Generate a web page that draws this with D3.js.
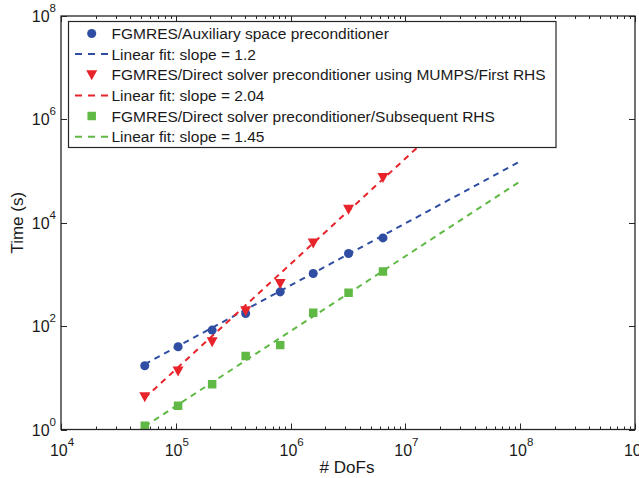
<!DOCTYPE html>
<html><head><meta charset="utf-8">
<script src="https://cdn.jsdelivr.net/npm/d3@7"></script>
<style>
body{margin:0;background:#fff;}
text{font-family:"Liberation Sans",Arial,sans-serif;fill:#1a1a1a;}
</style></head>
<body>
<svg id="chart" width="639" height="478"></svg>
<script>
// ---- data ----
const dofs = [53670, 104700, 207300, 406000, 811800, 1574000, 3198000, 6377000];
const auxTimes = [17.1, 39.8, 83.8, 176, 460, 1043, 2540, 5085];
const mumpsFirstTimes = [4.3, 13.5, 49.7, 198, 668, 4070, 18240, 74700];
const mumpsSubsTimes = [1.18, 2.88, 7.47, 26.3, 42.9, 181, 444, 1140];
// fitted lines (endpoints)
const fitX = [53670, 1e8];
const auxFit = [18.4, 154000];
const mumpsFirstFit = [4.08, 1.92e7];
const mumpsSubsFit = [1.15, 63400];
const xTickExps = [4, 5, 6, 7, 8, 9];
const yTickExps = [0, 2, 4, 6, 8];
const legendLabels = [
  "FGMRES/Auxiliary space preconditioner",
  "Linear fit: slope = 1.2",
  "FGMRES/Direct solver preconditioner using MUMPS/First RHS",
  "Linear fit: slope = 2.04",
  "FGMRES/Direct solver preconditioner/Subsequent RHS",
  "Linear fit: slope = 1.45"
];

const colBlue = "#2f4ea3", colRed = "#e8232a", colGreen = "#5fb944";
const axisCol = "#262626";

const svg = d3.select("#chart");
const L = 61, R = 635, T = 16, B = 429.5;
const x = d3.scaleLog().domain([1e4, 1e9]).range([L, R]);
const y = d3.scaleLog().domain([1, 1e8]).range([B, T]);

svg.append("defs").append("clipPath").attr("id", "clip")
  .append("rect").attr("x", L).attr("y", T).attr("width", R - L).attr("height", B - T);

// ticks
const g = svg.append("g");
const minorX = [];
for (let e = 4; e < 9; e++) for (let k = 2; k <= 9; k++) minorX.push(k * Math.pow(10, e));
const tickStroke = (sel) => sel.attr("stroke", axisCol).attr("stroke-width", 1);
xTickExps.forEach(e => {
  const px = Math.round(x(Math.pow(10, e))) + 0.5;
  g.append("line").attr("x1", px).attr("x2", px).attr("y1", B).attr("y2", B - 6).call(tickStroke);
  g.append("line").attr("x1", px).attr("x2", px).attr("y1", T).attr("y2", T + 6).call(tickStroke);
});
minorX.forEach(v => {
  const px = Math.round(x(v)) + 0.5;
  g.append("line").attr("x1", px).attr("x2", px).attr("y1", B).attr("y2", B - 3).call(tickStroke);
  g.append("line").attr("x1", px).attr("x2", px).attr("y1", T).attr("y2", T + 3).call(tickStroke);
});
yTickExps.forEach(e => {
  const py = Math.round(y(Math.pow(10, e))) + 0.5;
  g.append("line").attr("x1", L).attr("x2", L + 6).attr("y1", py).attr("y2", py).call(tickStroke);
  g.append("line").attr("x1", R).attr("x2", R - 6).attr("y1", py).attr("y2", py).call(tickStroke);
});

// tick labels
xTickExps.forEach(e => {
  const t = svg.append("text").attr("x", x(Math.pow(10, e)) + 1).attr("y", 456)
    .attr("text-anchor", "middle").style("font-size", "16px");
  t.append("tspan").text("10");
  t.append("tspan").attr("dy", -10).style("font-size", "11.5px").text(e);
});
yTickExps.forEach(e => {
  const t = svg.append("text").attr("x", 56).attr("y", y(Math.pow(10, e)) + 6)
    .attr("text-anchor", "end").style("font-size", "16px");
  t.append("tspan").text("10");
  t.append("tspan").attr("dy", -10).style("font-size", "11.5px").text(e);
});

// axis titles
svg.append("text").attr("x", 347).attr("y", 473).attr("text-anchor", "middle")
  .style("font-size", "17px").text("# DoFs");
svg.append("text").attr("transform", "translate(23," + ((T + B) / 2) + ") rotate(-90)")
  .attr("text-anchor", "middle").style("font-size", "17px").text("Time (s)");

// plot content
const plot = svg.append("g").attr("clip-path", "url(#clip)");
const line = d3.line().x(d => x(d[0])).y(d => y(d[1]));
const fits = [[auxFit, colBlue], [mumpsFirstFit, colRed], [mumpsSubsFit, colGreen]];
fits.forEach(([f, c]) => {
  plot.append("path").datum(fitX.map((v, i) => [v, f[i]])).attr("d", line)
    .attr("fill", "none").attr("stroke", c).attr("stroke-width", 2).attr("stroke-dasharray", "6,5");
});
const sym = {
  circle: d3.symbol().type(d3.symbolCircle).size(64),
  square: d3.symbol().type(d3.symbolSquare).size(72),
};
const triPath = "M-5.5,-4.5L5.5,-4.5L0,5.5Z";
plot.selectAll(".c").data(dofs.map((v, i) => [v, auxTimes[i]])).join("path")
  .attr("d", sym.circle()).attr("transform", d => `translate(${x(d[0])},${y(d[1])})`).attr("fill", colBlue);
plot.selectAll(".t").data(dofs.map((v, i) => [v, mumpsFirstTimes[i]])).join("path")
  .attr("d", triPath).attr("transform", d => `translate(${x(d[0])},${y(d[1])})`).attr("fill", colRed);
plot.selectAll(".s").data(dofs.map((v, i) => [v, mumpsSubsTimes[i]])).join("path")
  .attr("d", sym.square()).attr("transform", d => `translate(${x(d[0])},${y(d[1])})`).attr("fill", colGreen);

// axes box
svg.append("rect").attr("x", L).attr("y", T).attr("width", R - L).attr("height", B - T)
  .attr("fill", "none").attr("stroke", axisCol).attr("stroke-width", 1.3);

// legend
const lg = svg.append("g");
lg.append("rect").attr("x", 68.5).attr("y", 21.5).attr("width", 487.5).attr("height", 126)
  .attr("fill", "#fff").attr("stroke", axisCol).attr("stroke-width", 1.2);
const rowY = [33.5, 54, 74.7, 95.4, 116, 136.7];
const legCols = [colBlue, colBlue, colRed, colRed, colGreen, colGreen];
legendLabels.forEach((lab, i) => {
  const ry = rowY[i];
  if (i % 2 === 1) {
    lg.append("line").attr("x1", 75).attr("x2", 108).attr("y1", ry).attr("y2", ry)
      .attr("stroke", legCols[i]).attr("stroke-width", 2).attr("stroke-dasharray", "7,6");
  } else {
    const d = i === 0 ? sym.circle() : i === 2 ? triPath : sym.square();
    lg.append("path").attr("d", d).attr("transform", `translate(91.7,${ry})`).attr("fill", legCols[i]);
  }
  lg.append("text").attr("x", 111.5).attr("y", ry + 5.5).style("font-size", "15.5px").text(lab);
});
</script>
</body></html>
